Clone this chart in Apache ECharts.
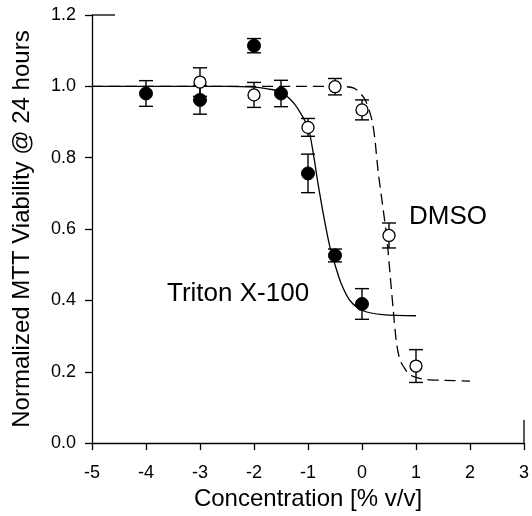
<!DOCTYPE html>
<html><head><meta charset="utf-8">
<script src="https://cdn.jsdelivr.net/npm/echarts@6/dist/echarts.min.js"></script>
<style>html,body{margin:0;padding:0;background:#fff}#c{width:532px;height:516px}</style>
</head><body><div id="c"></div>
<script>
// Measured data (Triton X-100: filled circles; DMSO: open circles)
const tritonX = [-4, -3, -2, -1.5, -1, -0.5, 0];
const tritonY = [0.98, 0.962, 1.114, 0.98, 0.756, 0.526, 0.39];
const tritonErr = [0.036, 0.04, 0.02, 0.037, 0.054, 0.018, 0.043];

const dmsoX = [-3, -2, -1, -0.5, 0, 0.5, 1];
const dmsoY = [1.012, 0.976, 0.885, 0.999, 0.934, 0.582, 0.216];
const dmsoErr = [0.04, 0.035, 0.025, 0.023, 0.028, 0.035, 0.046];

// Fitted curves
const tritonFitX = [-5, -2.5, -2, -1.75, -1.52, -1.33, -1.2, -1.0, -0.9, -0.81, -0.69, -0.59, -0.5, -0.38, -0.22, 0.02, 0.39, 1.0];
const tritonFitY = [1.0, 1.0, 0.998, 0.993, 0.985, 0.964, 0.94, 0.885, 0.81, 0.723, 0.621, 0.547, 0.5, 0.445, 0.399, 0.371, 0.36, 0.357];

const dmsoFitX = [-5, -1, -0.3, -0.15, -0.04, 0.06, 0.18, 0.24, 0.3, 0.39, 0.46, 0.52, 0.58, 0.64, 0.7, 0.77, 0.89, 1.14, 1.5, 2.0];
const dmsoFitY = [1.0, 1.0, 0.999, 0.995, 0.982, 0.962, 0.908, 0.85, 0.76, 0.658, 0.575, 0.473, 0.371, 0.28, 0.235, 0.214, 0.191, 0.179, 0.176, 0.174];

const xTicks = [-5, -4, -3, -2, -1, 0, 1, 2, 3];
const yTicks = [0.0, 0.2, 0.4, 0.6, 0.8, 1.0, 1.2];

const FONT = 'Liberation Sans, Arial, sans-serif';
const zip = (a, b) => a.map((v, i) => [v, b[i]]);
const errData = (xs, ys, es) => xs.map((v, i) => [v, ys[i] - es[i], ys[i] + es[i]]);

function errorBar(params, api) {
  const x = api.value(0);
  const lo = api.coord([x, api.value(1)]);
  const hi = api.coord([x, api.value(2)]);
  const hw = 7;
  const st = { stroke: '#000', lineWidth: 1.4 };
  return {
    type: 'group',
    children: [
      { type: 'line', shape: { x1: lo[0], y1: lo[1], x2: hi[0], y2: hi[1] }, style: st },
      { type: 'line', shape: { x1: lo[0] - hw, y1: lo[1], x2: lo[0] + hw, y2: lo[1] }, style: st },
      { type: 'line', shape: { x1: hi[0] - hw, y1: hi[1], x2: hi[0] + hw, y2: hi[1] }, style: st }
    ]
  };
}

const chart = echarts.init(document.getElementById('c'), null, { renderer: 'canvas' });
chart.setOption({
  animation: false,
  backgroundColor: '#fff',
  grid: { left: 92, right: 8, top: 15, bottom: 69, containLabel: false },
  xAxis: {
    type: 'value', min: -5, max: 3, interval: 1,
    name: 'Concentration [% v/v]', nameLocation: 'middle', nameGap: 40,
    nameTextStyle: { fontFamily: FONT, fontSize: 24, color: '#000' },
    axisLine: { onZero: false, lineStyle: { color: '#000', width: 1.3 } },
    axisTick: { show: true, inside: false, length: 7, lineStyle: { color: '#000', width: 1.3 } },
    axisLabel: { margin: 21, fontFamily: FONT, fontSize: 18, color: '#000',
      formatter: v => String(xTicks.find(t => Math.abs(t - v) < 1e-9) ?? v) },
    splitLine: { show: false }
  },
  yAxis: {
    type: 'value', min: 0, max: 1.2, interval: 0.2,
    name: 'Normalized MTT Viability @ 24 hours', nameLocation: 'middle', nameGap: 58, nameRotate: 90,
    nameTextStyle: { fontFamily: FONT, fontSize: 24, color: '#000' },
    axisLine: { show: true, onZero: false, lineStyle: { color: '#000', width: 1.3 } },
    axisTick: { show: true, inside: false, length: 7, lineStyle: { color: '#000', width: 1.3 } },
    axisLabel: { margin: 16, fontFamily: FONT, fontSize: 18, color: '#000',
      formatter: v => { const t = yTicks.find(t => Math.abs(t - v) < 1e-9); return (t ?? v).toFixed(1); } },
    splitLine: { show: false }
  },
  graphic: [
    { type: 'text', left: 167, top: 281, style: { text: 'Triton X-100', font: '26px ' + FONT, fill: '#000' } },
    { type: 'text', left: 409, top: 204, style: { text: 'DMSO', font: '26px ' + FONT, fill: '#000' } }
  ],
  series: [
    { type: 'line', data: zip(dmsoFitX, dmsoFitY), smooth: 0.3, showSymbol: false, symbol: 'none',
      lineStyle: { color: '#000', width: 1.3, type: [11, 6] }, z: 2 },
    { type: 'line', data: zip(tritonFitX, tritonFitY), smooth: 0.3, showSymbol: false, symbol: 'none',
      lineStyle: { color: '#000', width: 1.3 }, z: 2 },
    { type: 'custom', renderItem: errorBar, data: errData(tritonX, tritonY, tritonErr), z: 3 },
    { type: 'custom', renderItem: errorBar, data: errData(dmsoX, dmsoY, dmsoErr), z: 3 },
    { type: 'scatter', data: zip(tritonX, tritonY), symbol: 'circle', symbolSize: 13,
      itemStyle: { color: '#000', borderColor: '#000', borderWidth: 1, opacity: 1 }, z: 4 },
    { type: 'scatter', data: zip(dmsoX, dmsoY), symbol: 'circle', symbolSize: 12,
      itemStyle: { color: '#fff', borderColor: '#000', borderWidth: 1.3, opacity: 1 }, z: 5 },
    { type: 'custom', data: [[-5, 1.2, 3, 0]], z: 1, renderItem: (p, api) => {
        const a = api.coord([api.value(0), api.value(1)]);
        const b = api.coord([api.value(2), api.value(3)]);
        const st = { stroke: '#000', lineWidth: 1.3 };
        return { type: 'group', children: [
          { type: 'line', shape: { x1: a[0], y1: a[1], x2: a[0] + 23, y2: a[1] }, style: st },
          { type: 'line', shape: { x1: b[0], y1: b[1], x2: b[0], y2: b[1] - 23 }, style: st }
        ] };
      } }
  ]
});
</script></body></html>
